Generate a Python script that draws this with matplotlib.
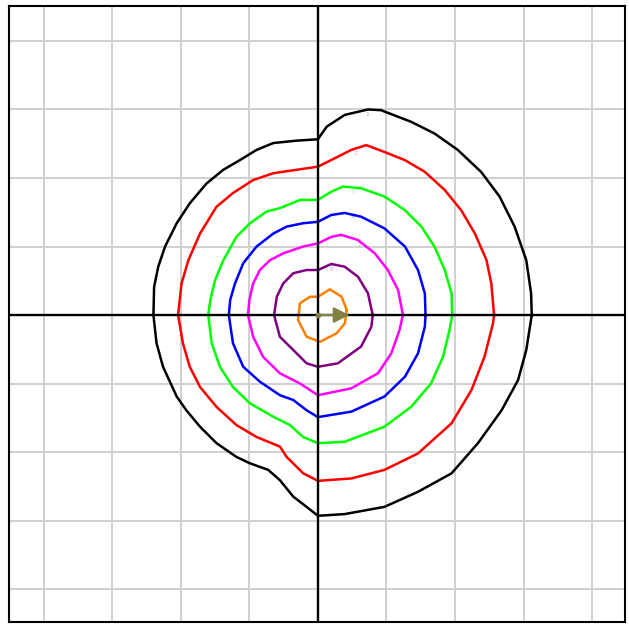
import matplotlib
matplotlib.use("Agg")
import matplotlib.pyplot as plt

# contour curves, values in grid units (one grid square = 1)
black_pts = [(3.12, 0), (3.11, 0.32), (3.04, 0.80), (2.87, 1.29), (2.65, 1.73), (2.38, 2.09),
             (2.04, 2.41), (1.70, 2.65), (1.36, 2.82), (0.92, 2.99), (0.73, 3.00), (0.39, 2.92),
             (0.13, 2.75), (0.03, 2.61), (0, 2.565), (-0.31, 2.545), (-0.65, 2.51), (-0.895, 2.41),
             (-1.14, 2.26), (-1.38, 2.12), (-1.625, 1.92), (-1.87, 1.63), (-2.06, 1.34), (-2.23, 1.0),
             (-2.33, 0.705), (-2.39, 0.41), (-2.40, 0), (-2.355, -0.41), (-2.26, -0.755), (-2.06, -1.19),
             (-1.92, -1.39), (-1.72, -1.63), (-1.48, -1.87), (-1.19, -2.07), (-0.99, -2.165),
             (-0.725, -2.26), (-0.555, -2.41), (-0.36, -2.65), (-0.165, -2.80), (0, -2.93),
             (0.39, -2.905), (0.97, -2.80), (1.46, -2.58), (1.95, -2.31), (2.335, -1.87),
             (2.68, -1.39), (2.92, -0.95), (3.04, -0.51), (3.12, 0)]
red_pts = [(2.57, 0), (2.53, 0.46), (2.46, 0.80), (2.29, 1.19), (2.09, 1.53), (1.85, 1.825),
           (1.56, 2.09), (1.27, 2.26), (0.97, 2.38), (0.705, 2.48), (0.487, 2.41), (0.29, 2.31),
           (0, 2.165), (-0.31, 2.12), (-0.65, 2.07), (-0.945, 1.97), (-1.24, 1.78), (-1.48, 1.58),
           (-1.72, 1.19), (-1.89, 0.80), (-1.99, 0.46), (-2.04, 0), (-1.97, -0.41), (-1.87, -0.755),
           (-1.72, -1.05), (-1.48, -1.34), (-1.19, -1.605), (-0.895, -1.78), (-0.555, -1.92),
           (-0.457, -2.07), (-0.215, -2.31), (0, -2.42), (0.487, -2.385), (0.97, -2.26),
           (1.46, -2.02), (1.95, -1.58), (2.24, -1.095), (2.43, -0.61), (2.555, -0.12), (2.57, 0)]
green_pts = [(1.96, 0), (1.95, 0.317), (1.85, 0.657), (1.70, 1.0), (1.51, 1.29), (1.27, 1.53),
             (0.97, 1.73), (0.63, 1.85), (0.365, 1.875), (0.195, 1.80), (0, 1.68), (-0.26, 1.68),
             (-0.555, 1.56), (-0.75, 1.51), (-0.99, 1.34), (-1.19, 1.14), (-1.38, 0.80), (-1.50, 0.51),
             (-1.57, 0.22), (-1.60, 0), (-1.55, -0.41), (-1.43, -0.755), (-1.24, -1.05), (-0.99, -1.29),
             (-0.65, -1.485), (-0.41, -1.605), (-0.215, -1.78), (0, -1.87), (0.39, -1.85),
             (0.97, -1.63), (1.36, -1.34), (1.65, -1.0), (1.825, -0.61), (1.92, -0.22), (1.96, 0)]
blue_pts = [(1.57, 0), (1.56, 0.317), (1.46, 0.657), (1.27, 1.0), (0.97, 1.265), (0.63, 1.435),
            (0.39, 1.49), (0.195, 1.46), (0, 1.36), (-0.215, 1.34), (-0.457, 1.29), (-0.65, 1.19),
            (-0.895, 1.0), (-1.09, 0.755), (-1.21, 0.46), (-1.28, 0.22), (-1.30, 0), (-1.24, -0.41),
            (-1.09, -0.755), (-0.847, -0.973), (-0.555, -1.17), (-0.36, -1.24), (-0.165, -1.39),
            (0, -1.49), (0.487, -1.41), (0.97, -1.19), (1.27, -0.90), (1.46, -0.56), (1.56, -0.17),
            (1.57, 0)]
magenta_pts = [(1.24, 0), (1.17, 0.365), (1.02, 0.657), (0.83, 0.90), (0.584, 1.095), (0.34, 1.17),
               (0.195, 1.14), (0, 1.045), (-0.215, 1.0), (-0.507, 0.90), (-0.70, 0.80),
               (-0.847, 0.657), (-0.945, 0.46), (-1.0, 0.22), (-1.02, 0), (-0.945, -0.317),
               (-0.80, -0.61), (-0.555, -0.85), (-0.26, -1.0), (0, -1.17), (0.487, -1.07),
               (0.876, -0.85), (1.07, -0.56), (1.19, -0.22), (1.24, 0)]
purple_pts = [(0.80, 0), (0.73, 0.317), (0.584, 0.56), (0.39, 0.705), (0.195, 0.745), (0, 0.657),
              (-0.165, 0.657), (-0.36, 0.61), (-0.507, 0.46), (-0.60, 0.267), (-0.64, 0),
              (-0.555, -0.317), (-0.36, -0.51), (-0.165, -0.705), (0, -0.755), (0.29, -0.705),
              (0.63, -0.46), (0.78, -0.17), (0.80, 0)]
orange_pts = [(0.42, 0.073), (0.346, 0.267), (0.175, 0.375), (0, 0.267), (-0.117, 0.267),
              (-0.263, 0.17), (-0.29, -0.073), (-0.165, -0.317), (0.03, -0.39), (0.273, -0.267),
              (0.394, -0.12), (0.42, 0.073)]

curves = [black_pts, red_pts, green_pts, blue_pts, magenta_pts, purple_pts, orange_pts]
colors = ['black', 'red', '#00ff00', 'blue', 'magenta', 'purple', '#ff8000']
labels = ['1', '2', '3', '4', '5', '6', '7']
label_pos = [(0.72, 2.93), (0.55, 2.36), (0.5, 1.8), (0.5, 1.42), (0.6, 1.03), (0.2, 0.66), (0.35, 0.27)]

ticks = [-4, -3, -2, -1, 0, 1, 2, 3, 4]
arrow_len = 0.5

fig = plt.figure(figsize=(6.29, 6.25), dpi=100)
ax = fig.add_axes([0.0151, 0.0048, 0.9785, 0.9856])

for pts, c in zip(curves, colors):
    xs = [p[0] for p in pts]
    ys = [p[1] for p in pts]
    ax.plot(xs, ys, color=c, lw=1.8, zorder=3, solid_joinstyle='round')

for (lx, ly), lab, c in zip(label_pos, labels, colors):
    ax.text(lx, ly, lab, color=c, alpha=0.35, fontsize=4.5, ha='center', va='center', zorder=3)

ax.axhline(0, color='black', lw=1.7, zorder=4)
ax.axvline(0, color='black', lw=1.7, zorder=4)

ax.annotate('', xy=(arrow_len, 0), xytext=(0, 0),
            arrowprops=dict(arrowstyle='-|>', color='#808040', lw=1.5, mutation_scale=24), zorder=5)
ax.plot([0], [0], 'o', color='#808040', ms=3, zorder=5)

ax.set_xlim(-4.5, 4.48)
ax.set_ylim(-4.48, 4.51)
ax.set_xticks(ticks)
ax.set_yticks(ticks)
ax.grid(True, color='#d0d0d0', lw=1.4)
ax.set_axisbelow(True)
ax.tick_params(length=0, labelbottom=False, labelleft=False)
for s in ax.spines.values():
    s.set_linewidth(1.5)
    s.set_color('black')

plt.savefig('out.png', dpi=100)
